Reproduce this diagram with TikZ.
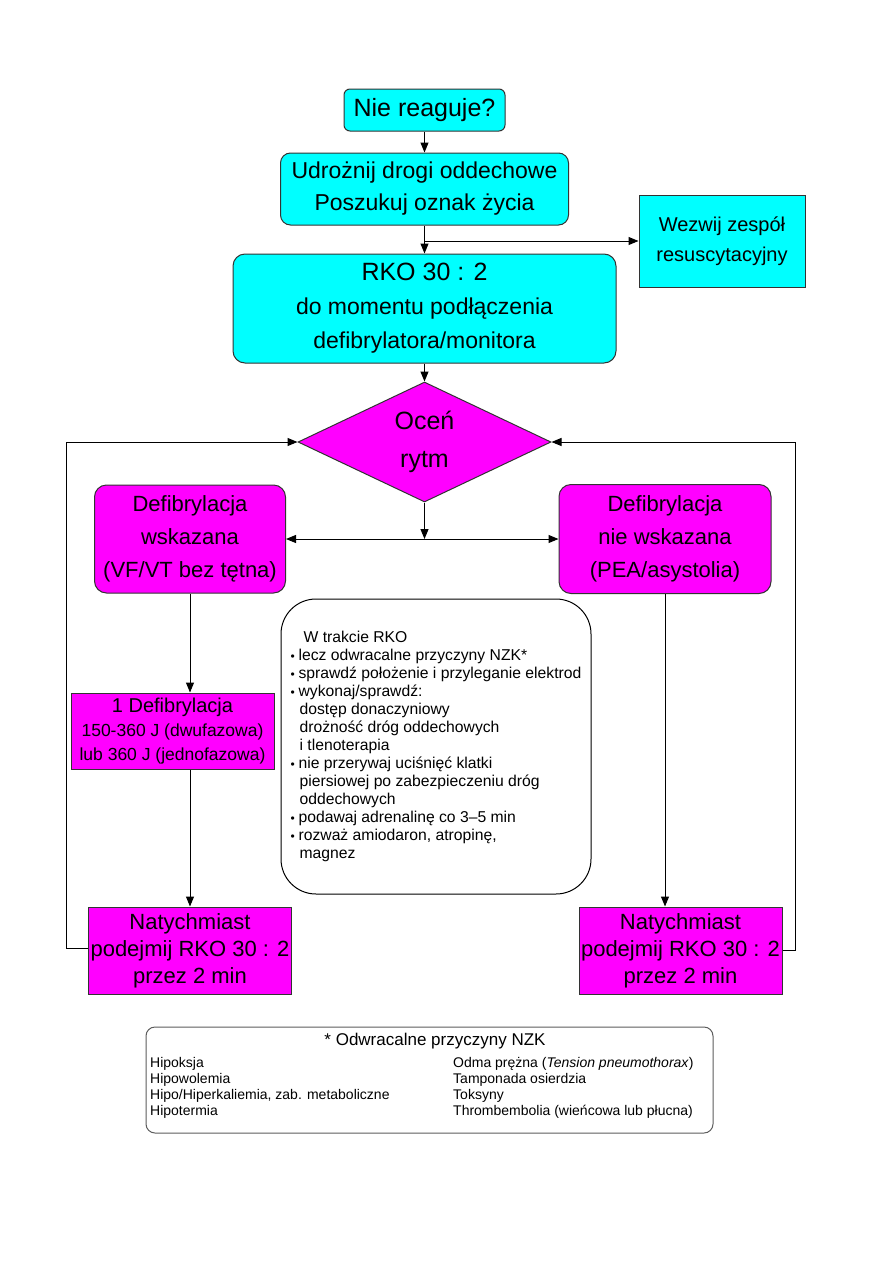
\documentclass[tikz,border=0pt]{standalone}
\usepackage{fontspec}
\setmainfont{Liberation Sans}
\usetikzlibrary{arrows.meta,shapes.geometric}
\definecolor{boxcyan}{HTML}{00FFFF}
\definecolor{boxmagenta}{HTML}{FF00FF}
\definecolor{boxedge}{HTML}{333333}
\newcommand{\bulletmark}{\makebox[8pt][l]{\fontsize{12}{18}\selectfont\textbullet}}
\newcommand{\contindent}{\hspace*{9pt}}

\begin{document}
\begin{tikzpicture}[x=1pt, y=-1pt,
  flow/.style={-{Triangle[length=10pt,width=8pt]}, line width=1pt},
  cyanbox/.style={draw=boxedge, fill=boxcyan, line width=1pt, align=center, inner sep=0pt},
  pinkbox/.style={draw=boxedge, fill=boxmagenta, line width=1pt, align=center, inner sep=0pt}]
\useasboundingbox (0,0) rectangle (893,1263);

% top of the chain: response, airway, call for help, CPR
\node[cyanbox, rounded corners=6pt, minimum width=161pt, minimum height=42pt,
  font=\fontsize{25}{30}\selectfont] (nie) at (424.5,110) {Nie reaguje?};
\node[cyanbox, rounded corners=10pt, minimum width=288pt, minimum height=72pt,
  font=\fontsize{23}{32}\selectfont] (udr) at (424.5,189) {Udrożnij drogi oddechowe\\Poszukuj oznak życia};
\node[cyanbox, minimum width=166pt, minimum height=92pt,
  font=\fontsize{20}{30}\selectfont] (wez) at (722,241) {Wezwij zespół\\resuscytacyjny};
\node[cyanbox, rounded corners=12pt, minimum width=383pt, minimum height=109pt,
  font=\fontsize{23}{34}\selectfont] (rko) at (424.5,308.5)
  {{\fontsize{25}{34}\selectfont RKO 30 : 2}\\do momentu podłączenia\\defibrylatora/monitora};

% rhythm check
\node[diamond, draw=boxedge, fill=boxmagenta, line width=1pt, inner sep=0pt, aspect=2.1,
  minimum width=253pt, minimum height=120pt, align=center,
  font=\fontsize{25}{38}\selectfont] (ocen) at (424.5,442) {Oceń\\rytm};

% shockable / non-shockable branches
\node[pinkbox, rounded corners=12pt, minimum width=191pt, minimum height=108pt,
  font=\fontsize{22}{33}\selectfont] (defl) at (190,539) {Defibrylacja\\wskazana\\(VF/VT bez tętna)};
\node[pinkbox, rounded corners=12pt, minimum width=212pt, minimum height=109pt,
  font=\fontsize{22}{33}\selectfont] (defr) at (665,539) {Defibrylacja\\nie wskazana\\(PEA/asystolia)};
\node[pinkbox, minimum width=203pt, minimum height=76pt,
  font=\fontsize{17.5}{24}\selectfont] (def1) at (172.5,731)
  {{\fontsize{20}{24}\selectfont 1 Defibrylacja}\\150-360 J (dwufazowa)\\lub 360 J (jednofazowa)};
\node[pinkbox, minimum width=203pt, minimum height=87pt,
  font=\fontsize{22}{27}\selectfont] (natl) at (190,950.5) {Natychmiast\\podejmij RKO 30 : 2\\przez 2 min};
\node[pinkbox, minimum width=203pt, minimum height=87pt,
  font=\fontsize{22}{27}\selectfont] (natr) at (680.5,950.5) {Natychmiast\\podejmij RKO 30 : 2\\przez 2 min};

% tasks during CPR
\node[draw=black, line width=1pt, rounded corners=35pt, minimum width=310pt, minimum height=295pt,
  align=left, inner sep=0pt, font=\fontsize{15.7}{18}\selectfont] (tasks) at (436,746.5)
  {\hspace*{13pt}W trakcie RKO\\
   \bulletmark lecz odwracalne przyczyny NZK*\\
   \bulletmark sprawdź położenie i przyleganie elektrod\\
   \bulletmark wykonaj/sprawdź:\\
   \contindent dostęp donaczyniowy\\
   \contindent drożność dróg oddechowych\\
   \contindent i tlenoterapia\\
   \bulletmark nie przerywaj uciśnięć klatki\\
   \contindent piersiowej po zabezpieczeniu dróg\\
   \contindent oddechowych\\
   \bulletmark podawaj adrenalinę co 3--5 min\\
   \bulletmark rozważ amiodaron, atropinę,\\
   \contindent magnez};

% reversible causes
\node[draw=boxedge!80, line width=1pt, rounded corners=9pt, minimum width=567pt, minimum height=106pt]
  (causes) at (429.5,1080) {};
\node[font=\fontsize{17}{20}\selectfont] (causetitle) at (435,1041) {* Odwracalne przyczyny NZK};
\node[anchor=north west, align=left, inner sep=0pt, font=\fontsize{14}{16}\selectfont]
  (causesleft) at (150,1057) {Hipoksja\\Hipowolemia\\Hipo/Hiperkaliemia, zab. metaboliczne\\Hipotermia};
\node[anchor=north west, align=left, inner sep=0pt, font=\fontsize{14}{16}\selectfont]
  (causesright) at (453,1057) {Odma prężna (\textit{Tension pneumothorax})\\Tamponada osierdzia\\Toksyny\\Thrombembolia (wieńcowa lub płucna)};

% connectors
\coordinate (callsplit) at (udr.south |- wez.west);
\coordinate (leftloop) at (66,948.5);
\coordinate (rightloop) at (795,950.5);
\draw[flow] (nie.south) -- (udr.north);
\draw[flow] (udr.south) -- (rko.north);
\draw[flow] (callsplit) -- (wez.west);
\draw[flow] (rko.south) -- (ocen.north);
\draw[flow] (ocen.south) -- (ocen.south |- defl.east);
\draw[{Triangle[length=10pt,width=8pt]}-{Triangle[length=10pt,width=8pt]}, line width=1pt]
  (defl.east) -- (defr.west);
\draw[flow] (defl.south) -- (defl.south |- def1.north);
\draw[flow] (defl.south |- def1.south) -- (natl.north);
\draw[flow] (defr.south) -- (defr.south |- natr.north);
\draw[flow] (natl.west |- leftloop) -- (leftloop) |- (ocen.west);
\draw[flow] (natr.east) -- (rightloop) |- (ocen.east);
\end{tikzpicture}
\end{document}
